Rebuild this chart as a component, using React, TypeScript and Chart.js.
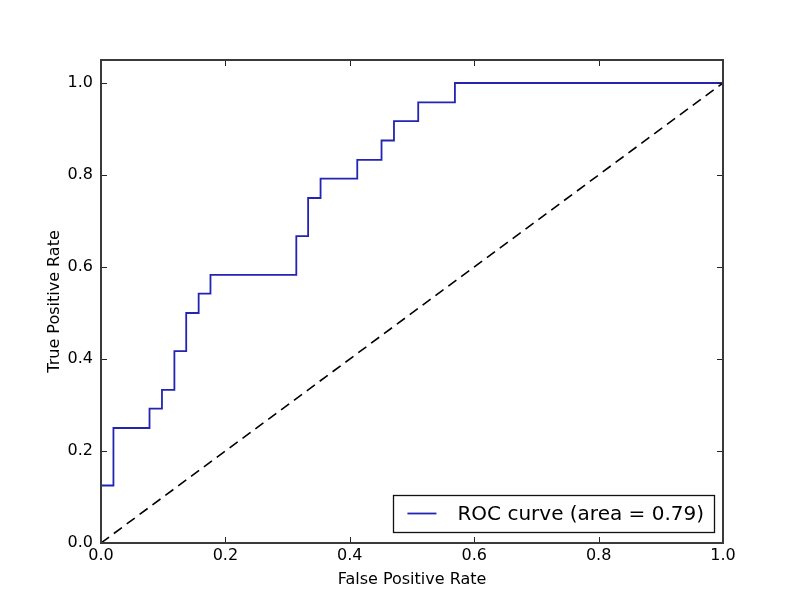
import { useEffect, useRef } from "react";
import { Chart, registerables } from "chart.js";

Chart.register(...registerables);

// ROC curve vertices (false positive rate, true positive rate)
const fpr = [
  0.0, 0.0, 0.02, 0.02, 0.078, 0.078, 0.098, 0.098, 0.118, 0.118, 0.137, 0.137,
  0.157, 0.157, 0.176, 0.176, 0.314, 0.314, 0.333, 0.333, 0.353, 0.353, 0.412,
  0.412, 0.451, 0.451, 0.471, 0.471, 0.51, 0.51, 0.569, 0.569, 1.0,
];
const tpr = [
  0.0, 0.125, 0.125, 0.25, 0.25, 0.292, 0.292, 0.333, 0.333, 0.417, 0.417, 0.5,
  0.5, 0.542, 0.542, 0.583, 0.583, 0.667, 0.667, 0.75, 0.75, 0.792, 0.792,
  0.833, 0.833, 0.875, 0.875, 0.917, 0.917, 0.958, 0.958, 1.0, 1.0,
];
const chanceX = [0, 1];
const chanceY = [0, 1];
const xTickValues = [0, 0.2, 0.4, 0.6, 0.8, 1.0];
const yTickValues = [0, 0.2, 0.4, 0.6, 0.8, 1.0];
const legendLabel = "ROC curve (area = 0.79)";
const xTitle = "False Positive Rate";
const yTitle = "True Positive Rate";

const FONT = "'DejaVu Sans', sans-serif";
const CURVE_COLOR = "#2323b4";

const framePlugin = {
  id: "frameTicks",
  afterDatasetsDraw(chart: any) {
    const { ctx, chartArea, scales } = chart;
    const { left, right, top, bottom } = chartArea;
    ctx.save();
    ctx.strokeStyle = "#222";
    ctx.lineWidth = 1;
    const tl = 6;
    ctx.beginPath();
    for (const v of xTickValues) {
      const x = Math.round(scales.x.getPixelForValue(v)) + 0.5;
      ctx.moveTo(x, bottom);
      ctx.lineTo(x, bottom - tl);
      ctx.moveTo(x, top);
      ctx.lineTo(x, top + tl);
    }
    for (const v of yTickValues) {
      const y = Math.round(scales.y.getPixelForValue(v)) + 0.5;
      ctx.moveTo(left, y);
      ctx.lineTo(left + tl, y);
      ctx.moveTo(right, y);
      ctx.lineTo(right - tl, y);
    }
    ctx.stroke();
    ctx.strokeStyle = "#3a3a3a";
    ctx.lineWidth = 2;
    ctx.strokeRect(left, top, right - left, bottom - top);
    ctx.restore();
  },
  afterDraw(chart: any) {
    const { ctx, chartArea } = chart;
    ctx.save();
    ctx.font = `20px ${FONT}`;
    const tw = ctx.measureText(legendLabel).width;
    const h = 37;
    const w = 14 + 29 + 21 + tw + 10;
    const bx = chartArea.right - 9 - w;
    const by = chartArea.bottom - 11 - h;
    ctx.fillStyle = "#fff";
    ctx.fillRect(bx, by, w, h);
    ctx.strokeStyle = "#111";
    ctx.lineWidth = 1.3;
    ctx.strokeRect(Math.round(bx) + 0.5, Math.round(by) + 0.5, Math.round(w), h);
    const cy = by + h / 2;
    ctx.strokeStyle = CURVE_COLOR;
    ctx.lineWidth = 1.8;
    ctx.beginPath();
    ctx.moveTo(bx + 14, cy);
    ctx.lineTo(bx + 43, cy);
    ctx.stroke();
    ctx.fillStyle = "#000";
    ctx.textBaseline = "middle";
    ctx.textAlign = "left";
    ctx.fillText(legendLabel, bx + 64, cy + 1);
    ctx.restore();
  },
};

export default function App() {
  const ref = useRef<HTMLCanvasElement>(null);
  useEffect(() => {
    document.body.style.margin = "0";
    const canvas = ref.current!;
    const chart = new Chart(canvas, {
      type: "scatter",
      data: {
        datasets: [
          {
            label: legendLabel,
            data: fpr.map((x, i) => ({ x, y: tpr[i] })),
            showLine: true,
            borderColor: CURVE_COLOR,
            borderWidth: 1.8,
            pointRadius: 0,
            fill: false,
          },
          {
            label: "chance",
            data: chanceX.map((x, i) => ({ x, y: chanceY[i] })),
            showLine: true,
            borderColor: "#000",
            borderWidth: 1.6,
            borderDash: [10, 6],
            pointRadius: 0,
            fill: false,
          },
        ],
      },
      options: {
        animation: false,
        responsive: false,
        devicePixelRatio: 1,
        layout: { padding: { top: 60, right: 81, left: 0, bottom: 0 } },
        plugins: {
          legend: { display: false },
          tooltip: { enabled: false },
        },
        scales: {
          x: {
            type: "linear",
            min: 0,
            max: 1,
            grid: { display: false, drawTicks: false },
            border: { display: false },
            afterBuildTicks: (s: any) => {
              s.ticks = xTickValues.map((v) => ({ value: v }));
            },
            afterFit: (s: any) => {
              s.height = 60;
            },
            ticks: {
              color: "#000",
              font: { family: FONT, size: 16 },
              padding: 3,
              maxRotation: 0,
              autoSkip: false,
              callback: (v: any) => Number(v).toFixed(1),
            },
            title: {
              display: true,
              text: xTitle,
              color: "#000",
              font: { family: FONT, size: 16 },
              padding: { top: 0, bottom: 14 },
            },
          },
          y: {
            type: "linear",
            min: 0,
            max: 1.05,
            grid: { display: false, drawTicks: false },
            border: { display: false },
            afterBuildTicks: (s: any) => {
              s.ticks = yTickValues.map((v) => ({ value: v }));
            },
            afterFit: (s: any) => {
              s.width = 101;
            },
            ticks: {
              color: "#000",
              font: { family: FONT, size: 16 },
              padding: 8,
              autoSkip: false,
              callback: (v: any) => Number(v).toFixed(1),
            },
            title: {
              display: true,
              text: yTitle,
              color: "#000",
              font: { family: FONT, size: 16 },
              padding: { top: 45, bottom: 0 },
            },
          },
        },
      },
      plugins: [framePlugin],
    });
    return () => chart.destroy();
  }, []);
  return (
    <div style={{ position: "absolute", left: 0, top: 0, width: 804, height: 603 }}>
      <canvas ref={ref} width={804} height={603} />
    </div>
  );
}
